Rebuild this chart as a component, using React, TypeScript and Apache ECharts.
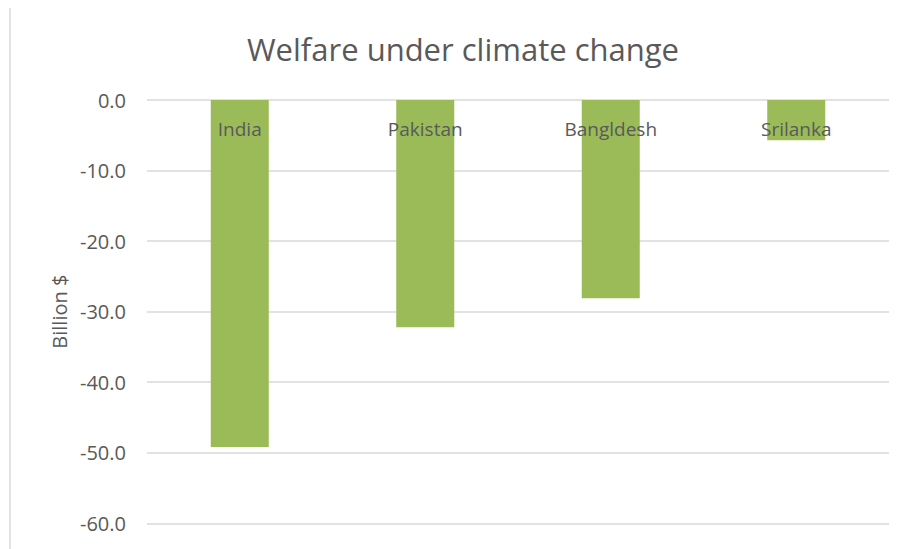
import React, { useEffect, useRef } from "react";
import * as echarts from "echarts";

const categories = ["India", "Pakistan", "Bangldesh", "Srilanka"];
const welfare = [-49.2, -32.2, -28.1, -5.7];
const titleText = "Welfare under climate change";
const yAxisName = "Billion $";

const FONT = "'Open Sans', 'Noto Sans', sans-serif";
const TXT = "#595959";

export default function App() {
  const ref = useRef<HTMLDivElement>(null);
  useEffect(() => {
    if (!ref.current) return;
    const chart = echarts.init(ref.current, null, { renderer: "svg" });
    chart.setOption({
      animation: false,
      backgroundColor: "#ffffff",
      title: {
        text: titleText,
        top: 28,
        left: 458,
        textAlign: "center",
        textStyle: { fontFamily: FONT, fontSize: 31, fontWeight: "normal", color: TXT },
      },
      grid: { left: 147, right: 17, top: 100, bottom: 25.7, outerBoundsMode: "none", containLabel: false },
      xAxis: {
        type: "category",
        data: categories,
        position: "top",
        z: 10,
        axisLine: { show: false },
        axisTick: { show: false },
        axisLabel: { inside: true, margin: 19, fontFamily: FONT, fontSize: 19, color: TXT },
      },
      yAxis: {
        type: "value",
        min: -60,
        max: 0,
        interval: 10,
        name: yAxisName,
        nameLocation: "middle",
        nameGap: 78,
        nameTextStyle: { fontFamily: FONT, fontSize: 20, color: TXT },
        axisLine: { show: false },
        axisTick: { show: false },
        axisLabel: {
          margin: 21,
          fontFamily: FONT,
          fontSize: 20,
          color: TXT,
          formatter: (v: number) => v.toFixed(1),
        },
        splitLine: { lineStyle: { color: "#d9d9d9", width: 1.5 } },
      },
      series: [
        {
          type: "bar",
          data: welfare,
          barWidth: 58,
          itemStyle: { color: "#9BBB59" },
        },
      ],
      graphic: [
        {
          type: "line",
          shape: { x1: 10, y1: 8, x2: 10, y2: 549 },
          style: { stroke: "#d9d9d9", lineWidth: 1.5 },
        },
      ],
    });
    return () => chart.dispose();
  }, []);
  return <div ref={ref} style={{ width: 906, height: 549, position: "absolute", left: 0, top: 0 }} />;
}
